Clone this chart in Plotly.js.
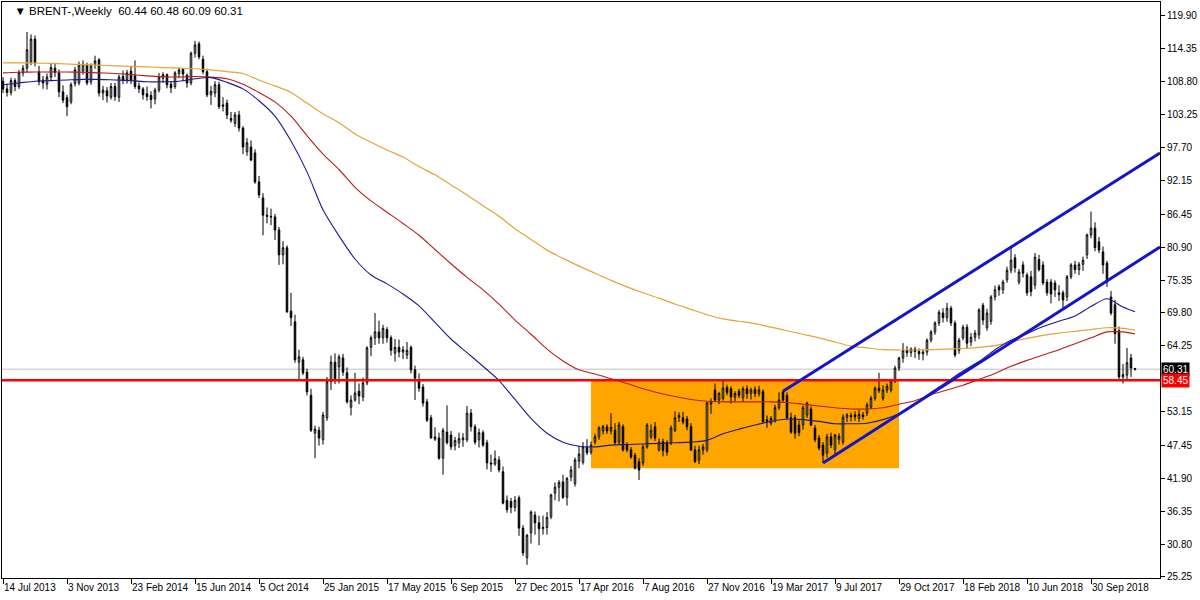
<!DOCTYPE html>
<html><head><meta charset="utf-8">
<script src="https://cdn.plot.ly/plotly-3.0.1.min.js"></script>
<style>html,body{margin:0;padding:0;background:#fff}#chart{width:1200px;height:600px}</style>
</head><body><div id="chart"></div>
<script>
const dates = [
'2013-07-14','2013-07-21','2013-07-28','2013-08-04','2013-08-11','2013-08-18','2013-08-25','2013-09-01','2013-09-08','2013-09-15','2013-09-22','2013-09-29','2013-10-06','2013-10-13','2013-10-20','2013-10-27','2013-11-03','2013-11-10','2013-11-17','2013-11-24','2013-12-01','2013-12-08','2013-12-15','2013-12-22','2013-12-29',
'2014-01-05','2014-01-12','2014-01-19','2014-01-26','2014-02-02','2014-02-09','2014-02-16','2014-02-23','2014-03-02','2014-03-09','2014-03-16','2014-03-23','2014-03-30','2014-04-06','2014-04-13','2014-04-20','2014-04-27','2014-05-04','2014-05-11','2014-05-18','2014-05-25','2014-06-01','2014-06-08','2014-06-15','2014-06-22','2014-06-29','2014-07-06','2014-07-13','2014-07-20','2014-07-27','2014-08-03','2014-08-10','2014-08-17','2014-08-24','2014-08-31','2014-09-07','2014-09-14','2014-09-21','2014-09-28','2014-10-05','2014-10-12','2014-10-19','2014-10-26','2014-11-02','2014-11-09','2014-11-16','2014-11-23','2014-11-30','2014-12-07','2014-12-14','2014-12-21','2014-12-28',
'2015-01-04','2015-01-11','2015-01-18','2015-01-25','2015-02-01','2015-02-08','2015-02-15','2015-02-22','2015-03-01','2015-03-08','2015-03-15','2015-03-22','2015-03-29','2015-04-05','2015-04-12','2015-04-19','2015-04-26','2015-05-03','2015-05-10','2015-05-17','2015-05-24','2015-05-31','2015-06-07','2015-06-14','2015-06-21','2015-06-28','2015-07-05','2015-07-12','2015-07-19','2015-07-26','2015-08-02','2015-08-09','2015-08-16','2015-08-23','2015-08-30','2015-09-06','2015-09-13','2015-09-20','2015-09-27','2015-10-04','2015-10-11','2015-10-18','2015-10-25','2015-11-01','2015-11-08','2015-11-15','2015-11-22','2015-11-29','2015-12-06','2015-12-13','2015-12-20','2015-12-27',
'2016-01-03','2016-01-10','2016-01-17','2016-01-24','2016-01-31','2016-02-07','2016-02-14','2016-02-21','2016-02-28','2016-03-06','2016-03-13','2016-03-20','2016-03-27','2016-04-03','2016-04-10','2016-04-17','2016-04-24','2016-05-01','2016-05-08','2016-05-15','2016-05-22','2016-05-29','2016-06-05','2016-06-12','2016-06-19','2016-06-26','2016-07-03','2016-07-10','2016-07-17','2016-07-24','2016-07-31','2016-08-07','2016-08-14','2016-08-21','2016-08-28','2016-09-04','2016-09-11','2016-09-18','2016-09-25','2016-10-02','2016-10-09','2016-10-16','2016-10-23','2016-10-30','2016-11-06','2016-11-13','2016-11-20','2016-11-27','2016-12-04','2016-12-11','2016-12-18','2016-12-25',
'2017-01-01','2017-01-08','2017-01-15','2017-01-22','2017-01-29','2017-02-05','2017-02-12','2017-02-19','2017-02-26','2017-03-05','2017-03-12','2017-03-19','2017-03-26','2017-04-02','2017-04-09','2017-04-16','2017-04-23','2017-04-30','2017-05-07','2017-05-14','2017-05-21','2017-05-28','2017-06-04','2017-06-11','2017-06-18','2017-06-25','2017-07-02','2017-07-09','2017-07-16','2017-07-23','2017-07-30','2017-08-06','2017-08-13','2017-08-20','2017-08-27','2017-09-03','2017-09-10','2017-09-17','2017-09-24','2017-10-01','2017-10-08','2017-10-15','2017-10-22','2017-10-29','2017-11-05','2017-11-12','2017-11-19','2017-11-26','2017-12-03','2017-12-10','2017-12-17','2017-12-24','2017-12-31',
'2018-01-07','2018-01-14','2018-01-21','2018-01-28','2018-02-04','2018-02-11','2018-02-18','2018-02-25','2018-03-04','2018-03-11','2018-03-18','2018-03-25','2018-04-01','2018-04-08','2018-04-15','2018-04-22','2018-04-29','2018-05-06','2018-05-13','2018-05-20','2018-05-27','2018-06-03','2018-06-10','2018-06-17','2018-06-24','2018-07-01','2018-07-08','2018-07-15','2018-07-22','2018-07-29','2018-08-05','2018-08-12','2018-08-19','2018-08-26','2018-09-02','2018-09-09','2018-09-16','2018-09-23','2018-09-30','2018-10-07','2018-10-14','2018-10-21','2018-10-28','2018-11-04','2018-11-11','2018-11-18','2018-11-25','2018-12-02','2018-12-09','2018-12-16'
];

const opens = [
108.9,107.6,107.0,109.0,108.0,110.3,111.1,112.1,116.0,110.5,
109.1,108.4,109.6,111.1,110.3,107.1,106.1,105.4,108.5,108.6,
110.6,111.6,108.8,111.7,112.5,106.9,107.3,106.2,108.0,106.2,
109.7,109.2,110.6,109.8,108.1,107.6,106.8,106.5,105.9,107.4,
109.4,110.0,108.4,108.0,110.2,110.9,109.9,108.6,113.6,115.2,
112.6,110.5,106.6,106.9,108.3,104.9,105.2,102.6,101.8,103.2,
101.0,97.0,97.8,96.8,91.9,89.2,86.3,86.1,86.0,83.8,
79.6,80.8,70.1,68.3,61.5,61.9,59.8,55.9,49.5,50.0,
48.4,52.1,58.2,61.5,60.7,62.2,59.7,53.9,55.1,56.6,
55.6,58.0,64.0,65.6,66.6,65.6,67.0,65.6,63.0,64.0,
63.2,62.7,64.0,60.2,58.5,57.3,54.8,52.1,48.5,48.7,
45.3,49.7,49.2,47.4,47.9,48.4,48.4,52.9,50.6,48.4,
49.6,47.9,44.5,44.3,45.0,43.0,38.2,38.0,37.0,38.6,
33.5,28.5,32.7,35.7,34.4,33.4,33.6,35.4,39.4,40.4,
41.3,38.7,42.1,41.0,44.8,44.6,47.2,46.3,48.0,48.9,
49.9,50.6,49.9,50.0,48.0,50.6,47.5,46.7,45.8,44.7,
44.5,47.2,48.9,50.6,46.7,48.1,47.9,47.9,50.0,52.2,
52.1,51.9,50.6,46.7,45.0,46.7,46.7,54.4,56.8,55.1,
55.4,57.2,57.0,55.6,56.6,55.5,57.0,56.2,56.9,56.2,
56.5,51.8,51.2,51.7,53.8,56.5,55.9,52.1,52.1,50.9,
50.9,52.6,53.6,50.4,48.7,47.5,46.2,48.9,46.7,48.5,
48.0,52.2,52.5,52.6,52.0,52.6,52.9,53.9,55.4,57.1,
55.4,56.8,56.8,58.3,60.5,62.2,63.5,63.1,63.7,63.3,
62.9,63.2,65.2,66.6,68.1,69.8,69.0,70.6,68.1,63.5,
65.6,67.4,64.9,65.7,66.1,71.1,67.3,68.4,72.5,74.2,
73.7,75.4,77.0,79.1,75.0,77.9,76.2,75.9,74.5,78.8,
77.9,75.0,75.0,74.85,73.2,73.2,72.5,75.9,77.9,77.1,
78.0,79.6,82.95,84.1,81.8,80.1,78.2,72.5,71.2,66.8,
59.0,59.3,62.2,60.44
];
const highs = [
109.6,108.5,109.5,109.4,110.8,111.6,117.2,116.8,116.6,111.5,
109.8,110.2,111.8,111.9,110.9,108.2,106.6,108.7,111.3,112.2,
112.4,112.0,111.9,113.2,112.8,108.1,107.9,108.6,108.6,110.0,
110.7,110.8,111.3,112.4,108.7,107.9,108.0,107.2,107.8,110.3,
110.4,110.2,108.9,110.6,111.2,111.0,110.2,113.9,115.7,115.6,
113.2,111.0,108.1,108.9,108.8,106.2,105.8,103.7,103.7,103.9,
101.3,99.3,98.9,97.4,92.9,90.0,87.6,87.4,86.5,84.3,
81.9,81.2,73.2,69.5,63.6,62.4,60.4,57.0,50.8,50.6,
53.1,59.0,62.6,63.0,62.8,62.9,60.6,55.9,59.7,57.9,
58.9,64.2,66.0,69.8,68.5,67.8,67.4,66.0,65.4,65.3,
64.2,64.9,64.3,60.9,59.6,57.8,55.3,52.6,50.5,49.6,
50.4,54.2,49.9,48.9,49.6,49.5,54.1,53.6,51.0,50.3,
50.0,48.4,45.9,46.6,45.6,43.9,39.0,38.6,38.9,39.0,
34.0,32.5,36.5,36.3,35.6,35.6,36.2,39.3,41.2,41.6,
42.5,42.1,44.0,45.4,47.4,48.0,48.5,48.1,49.4,50.7,
50.9,51.0,52.9,51.2,51.4,51.0,48.0,47.2,46.2,45.3,
47.6,51.2,51.0,51.4,48.6,48.6,48.3,50.8,53.2,53.0,
53.1,52.4,51.2,47.4,47.4,47.7,54.8,55.4,57.9,56.5,
58.5,57.7,57.4,56.6,57.0,57.4,57.6,57.2,57.4,57.5,
56.9,52.5,52.4,54.3,56.4,56.6,56.4,53.0,52.6,51.7,
54.2,54.8,54.0,50.9,49.2,48.0,49.4,49.6,49.4,49.5,
52.7,52.9,53.0,53.2,53.4,53.1,54.7,55.8,57.4,59.7,
57.6,57.9,58.6,60.9,62.4,64.7,64.2,64.0,64.1,63.8,
63.7,65.5,66.9,68.4,70.3,70.6,71.5,71.0,68.5,65.6,
67.8,67.9,66.4,66.9,70.6,71.5,70.5,72.8,74.4,74.6,
75.4,77.6,80.8,79.7,77.2,78.5,76.6,76.9,79.9,79.6,
78.5,75.5,75.5,75.3,74.5,73.6,76.2,78.2,78.6,78.4,
79.3,83.2,86.9,85.1,82.6,81.0,78.6,73.5,72.0,67.5,
61.2,63.9,62.9,60.48
];
const lows = [
106.9,106.3,106.5,107.2,107.6,109.7,110.4,111.6,111.4,108.2,
107.6,107.5,108.9,109.6,106.2,105.2,103.0,105.0,108.0,108.2,
110.0,108.2,108.3,111.0,106.3,105.7,105.3,105.8,105.6,105.4,
108.4,108.5,108.4,107.6,106.9,105.8,105.6,104.3,105.0,107.0,
108.6,107.7,106.9,107.6,109.4,108.9,107.8,108.2,112.9,112.6,
110.1,106.2,104.9,106.2,104.2,103.8,102.5,101.9,101.2,100.4,
96.6,96.3,95.4,91.6,89.2,82.9,84.9,84.6,82.1,77.9,
78.0,69.8,67.6,61.4,58.5,59.3,55.9,49.7,45.3,47.4,
47.6,51.6,56.8,57.8,57.9,59.2,54.5,52.5,54.8,54.4,
54.9,57.6,62.5,64.4,64.6,64.6,64.8,62.6,61.6,62.3,
62.0,62.0,59.6,55.1,56.5,54.0,51.4,48.6,48.2,45.0,
42.5,47.6,46.7,46.6,47.0,47.2,48.0,49.8,47.6,47.1,
47.2,43.4,43.0,44.0,42.9,37.5,36.1,36.0,36.3,32.2,
28.8,27.3,30.9,32.4,30.6,32.4,32.4,35.0,38.2,38.0,
38.4,37.3,41.4,40.5,43.6,44.2,45.8,45.9,47.6,48.4,
49.3,49.4,49.3,47.5,47.6,46.4,46.3,45.2,43.4,41.6,
44.0,46.9,48.5,48.2,46.4,45.6,45.7,47.5,49.7,51.4,
51.0,50.0,46.5,44.5,44.3,45.9,46.3,52.8,54.8,54.4,
55.0,55.9,54.5,54.9,55.4,54.8,55.3,55.2,55.6,55.7,
51.1,50.4,50.8,51.3,53.4,54.8,51.8,49.4,48.6,49.0,
50.1,52.1,50.7,48.0,46.6,44.5,45.4,47.0,46.0,47.6,
47.6,51.4,51.5,51.6,51.4,51.8,52.4,53.6,55.0,56.3,
55.0,56.3,56.4,58.0,60.0,61.4,62.4,62.4,62.2,61.9,
61.8,62.6,64.8,66.1,67.6,68.2,68.3,67.6,62.3,62.9,
65.2,63.7,64.2,65.0,65.4,67.8,66.8,67.8,71.9,72.7,
73.0,74.9,76.5,76.6,74.6,75.8,72.7,72.6,73.8,76.8,
74.5,72.7,71.4,72.5,71.8,70.3,71.8,75.5,76.4,76.2,
76.9,78.9,82.4,80.2,79.9,76.4,74.2,69.4,64.6,58.4,
57.9,58.6,59.0,60.09
];
const closes = [
107.6,107.0,109.0,108.0,110.3,111.1,114.2,116.0,112.0,108.8,
108.6,109.6,111.2,110.4,107.1,105.7,104.6,108.3,110.8,111.6,
111.7,108.6,111.5,112.3,106.9,107.4,106.4,108.0,106.3,109.6,
109.1,110.3,109.0,108.0,107.6,106.6,106.3,105.8,107.4,109.6,
110.0,108.3,107.8,110.3,110.8,110.1,108.6,113.6,115.0,113.0,
110.5,106.6,107.2,108.3,104.6,104.7,103.2,102.3,103.2,101.0,
97.8,98.5,95.6,91.9,89.7,86.3,86.1,86.0,83.8,79.6,
80.8,70.0,69.0,61.9,62.4,59.7,56.5,50.0,50.2,48.7,
52.6,58.2,61.5,58.4,62.4,59.8,54.8,55.1,56.3,55.8,
58.0,63.9,65.6,66.6,65.6,67.2,65.6,63.5,64.0,63.2,
63.6,63.5,60.2,58.8,57.1,54.6,51.7,48.7,48.9,45.3,
50.0,47.9,47.2,48.3,48.6,48.7,52.9,50.6,48.0,49.6,
47.5,44.5,44.3,45.2,43.3,37.7,36.6,37.0,38.2,33.5,
29.3,32.3,36.2,34.4,33.4,33.6,35.3,39.1,40.4,41.2,
38.7,41.9,43.3,45.0,46.0,47.2,46.2,47.5,48.9,50.4,
50.6,49.9,50.5,47.9,50.9,46.7,46.7,45.5,43.6,43.3,
47.2,50.9,50.0,48.7,47.9,46.6,46.3,50.4,52.1,52.5,
51.4,50.6,46.7,44.7,46.7,47.2,54.6,54.8,55.1,56.2,
57.1,56.4,55.6,56.2,55.9,57.0,56.2,56.8,56.2,56.8,
51.5,51.5,52.0,53.8,55.1,55.1,52.1,49.7,49.5,49.6,
53.8,54.6,50.9,48.4,47.0,45.8,48.9,47.5,49.2,49.0,
52.2,52.6,52.3,52.3,52.7,52.3,54.3,55.4,57.1,56.7,
56.8,57.4,58.2,60.5,62.2,63.5,63.1,63.7,63.3,62.9,
63.2,65.2,66.6,68.1,69.9,69.0,70.6,68.1,62.7,65.2,
67.4,64.7,65.7,66.4,70.3,68.6,69.8,72.5,73.7,73.7,
75.0,77.0,78.7,77.4,76.7,76.5,73.2,73.4,79.2,77.1,
74.85,73.2,73.0,73.7,72.9,72.0,75.9,77.9,77.1,78.0,
78.7,82.95,84.1,80.8,80.4,77.9,75.0,69.8,66.3,59.0,
59.4,61.4,60.5,60.31
];

// moving averages read every 4 weeks (plus last bar)
const maBlue = [
108.3,108.6,108.9,109.0,109.1,109.2,109.2,109.1,109.0,108.8,
108.8,108.9,109.3,109.5,108.7,107.6,105.6,103.0,98.8,93.6,
87.2,82.8,78.9,76.2,74.7,73.0,71.0,68.2,65.4,63.1,
60.8,58.4,55.2,52.0,49.5,48.0,47.3,47.2,47.5,47.6,
47.7,47.8,47.9,48.0,48.3,49.4,50.2,50.9,51.5,51.9,
51.8,51.5,51.1,51.1,51.2,51.8,52.8,54.4,56.4,58.2,
60.0,61.6,63.6,65.2,66.3,67.5,68.4,69.3,70.9,72.2,
70.8,70.0
];
const maRed = [
110.3,110.4,110.45,110.45,110.45,110.4,110.3,110.2,110.0,109.8,
109.65,109.6,109.7,109.6,109.3,108.4,107.0,105.4,103.0,99.7,
96.6,94.0,91.0,88.7,86.8,84.9,82.9,80.5,78.1,75.8,
73.7,71.3,68.6,66.2,63.7,61.7,60.2,59.5,58.7,57.9,
57.0,56.3,55.7,55.2,54.9,54.8,54.8,54.8,54.8,54.7,
54.4,54.1,53.8,53.6,53.6,53.8,54.4,55.0,56.0,56.8,
57.6,58.6,59.6,60.8,61.8,62.7,63.6,64.6,65.6,66.6,
66.6,66.25
];
const maGold = [
112.0,112.0,111.95,111.9,111.8,111.7,111.6,111.5,111.4,111.3,
111.2,111.1,111.0,110.8,110.5,110.2,109.1,108.1,107.0,105.2,
103.4,101.9,100.0,98.6,97.3,96.1,94.5,93.1,91.4,89.7,
87.9,86.1,84.0,82.2,80.4,79.0,77.7,76.5,75.3,74.2,
73.2,72.3,71.3,70.4,69.5,68.8,68.4,68.0,67.4,66.8,
66.2,65.6,64.9,64.2,63.9,63.6,63.55,63.55,63.6,63.7,
63.8,64.0,64.3,64.9,65.5,66.0,66.4,66.7,67.0,67.3,
67.2,66.9
];

const tickDates = ['2013-07-14','2013-11-03','2014-02-23','2014-06-15','2014-10-05','2015-01-25','2015-05-17','2015-09-06','2015-12-27','2016-04-17','2016-08-07','2016-11-27','2017-03-19','2017-07-09','2017-10-29','2018-02-18','2018-06-10','2018-09-30'];
const tickLabels = ['14 Jul 2013','3 Nov 2013','23 Feb 2014','15 Jun 2014','5 Oct 2014','25 Jan 2015','17 May 2015','6 Sep 2015','27 Dec 2015','17 Apr 2016','7 Aug 2016','27 Nov 2016','19 Mar 2017','9 Jul 2017','29 Oct 2017','18 Feb 2018','10 Jun 2018','30 Sep 2018'];
const priceTicks = [119.90,114.35,108.80,103.25,97.70,92.15,86.45,80.90,75.35,69.80,64.25,53.15,47.45,41.90,36.35,30.80,25.25];
const priceLabels = ['119.90','114.35','108.80','103.25','97.70','92.15','86.45','80.90','75.35','69.80','64.25','53.15','47.45','41.90','36.35','30.80','25.25'];

const lastPrice = 60.31;
const supportLevel = 58.45;
const zoneDates = ['2016-05-08','2017-10-29'];
const zonePrices = [43.6, 58.45];
const upperChannelDates = ['2017-04-09','2019-01-28 18:00'];
const upperChannelPrices = [56.6, 96.8];
const lowerChannelDates = ['2017-06-18','2019-01-28 18:00'];
const lowerChannelPrices = [44.5, 80.93];
const titleText = '\u25BC BRENT-,Weekly  60.44 60.48 60.09 60.31';

const maDates = dates.filter((d,k)=>k%4===0).concat([dates[dates.length-1]]);

const FONT = 'Liberation Sans, Arial, sans-serif';
const traces = [
  {type:'candlestick', x:dates, open:opens, high:highs, low:lows, close:closes,
   increasing:{line:{color:'#000000',width:1}, fillcolor:'#FFFFFF'},
   decreasing:{line:{color:'#000000',width:1}, fillcolor:'#000000'},
   whiskerwidth:0, hoverinfo:'skip', showlegend:false},
  {type:'scatter', mode:'lines', x:maDates, y:maGold, line:{color:'#E3A535',width:1.2,shape:'spline',smoothing:0.8}, hoverinfo:'skip', showlegend:false},
  {type:'scatter', mode:'lines', x:maDates, y:maRed, line:{color:'#B81C1C',width:1.1,shape:'spline',smoothing:0.8}, hoverinfo:'skip', showlegend:false},
  {type:'scatter', mode:'lines', x:maDates, y:maBlue, line:{color:'#1C1C92',width:1.1,shape:'spline',smoothing:0.8}, hoverinfo:'skip', showlegend:false}
];

const layout = {
  width:1200, height:600,
  margin:{l:2, r:40, t:2, b:22, pad:0},
  paper_bgcolor:'#FFFFFF', plot_bgcolor:'#FFFFFF',
  showlegend:false, hovermode:false, boxgap:0.45,
  font:{family:FONT, size:10, color:'#000000'},
  title:{text:titleText, x:0.012, xref:'container', xanchor:'left', y:1-11/600, yref:'container', yanchor:'middle', font:{family:FONT, size:11.5, color:'#000000'}},
  xaxis:{type:'date', range:['2013-07-12 06:00','2019-01-28 18:00'], rangeslider:{visible:false},
         tickmode:'array', tickvals:tickDates, ticktext:tickLabels, ticks:'outside', ticklen:5, tickcolor:'#000000',
         tickangle:0, ticklabelposition:'outside right', tickfont:{family:FONT,size:10,color:'#000000'},
         showgrid:false, zeroline:false, showline:true, linecolor:'#000000', linewidth:1, mirror:true, fixedrange:true},
  yaxis:{side:'right', range:[25.08,122.26], tickmode:'array', tickvals:priceTicks, ticktext:priceLabels,
         ticks:'outside', ticklen:4, tickcolor:'#000000', tickfont:{family:FONT,size:10,color:'#000000'},
         showgrid:false, zeroline:false, showline:true, linecolor:'#000000', linewidth:1, mirror:true, fixedrange:true},
  shapes:[
    {type:'rect', xref:'x', yref:'y', x0:zoneDates[0], x1:zoneDates[1], y0:zonePrices[0], y1:zonePrices[1], fillcolor:'#FFA500', line:{width:0}, layer:'below'},
    {type:'line', xref:'paper', yref:'y', x0:0, x1:1, y0:lastPrice, y1:lastPrice, line:{color:'#C0C0C0', width:1}, layer:'below'},
    {type:'line', xref:'paper', yref:'y', x0:0, x1:1, y0:supportLevel, y1:supportLevel, line:{color:'#FF0000', width:2.5}, layer:'above'},
    {type:'line', xref:'x', yref:'y', x0:upperChannelDates[0], x1:upperChannelDates[1], y0:upperChannelPrices[0], y1:upperChannelPrices[1], line:{color:'#1414C8', width:3}, layer:'above'},
    {type:'line', xref:'x', yref:'y', x0:lowerChannelDates[0], x1:lowerChannelDates[1], y0:lowerChannelPrices[0], y1:lowerChannelPrices[1], line:{color:'#1414C8', width:3}, layer:'above'}
  ],
  annotations:[
    {xref:'paper', yref:'y', x:1, y:lastPrice, xanchor:'left', yanchor:'middle', xshift:1, text:lastPrice.toFixed(2), showarrow:false, bgcolor:'#000000', font:{family:FONT,size:10,color:'#FFFFFF'}, borderpad:1},
    {xref:'paper', yref:'y', x:1, y:supportLevel, xanchor:'left', yanchor:'middle', xshift:1, text:supportLevel.toFixed(2), showarrow:false, bgcolor:'#FF0000', font:{family:FONT,size:10,color:'#FFFFFF'}, borderpad:1}
  ]
};

Plotly.newPlot('chart', traces, layout, {displayModeBar:false, staticPlot:true});
</script>
</body></html>
